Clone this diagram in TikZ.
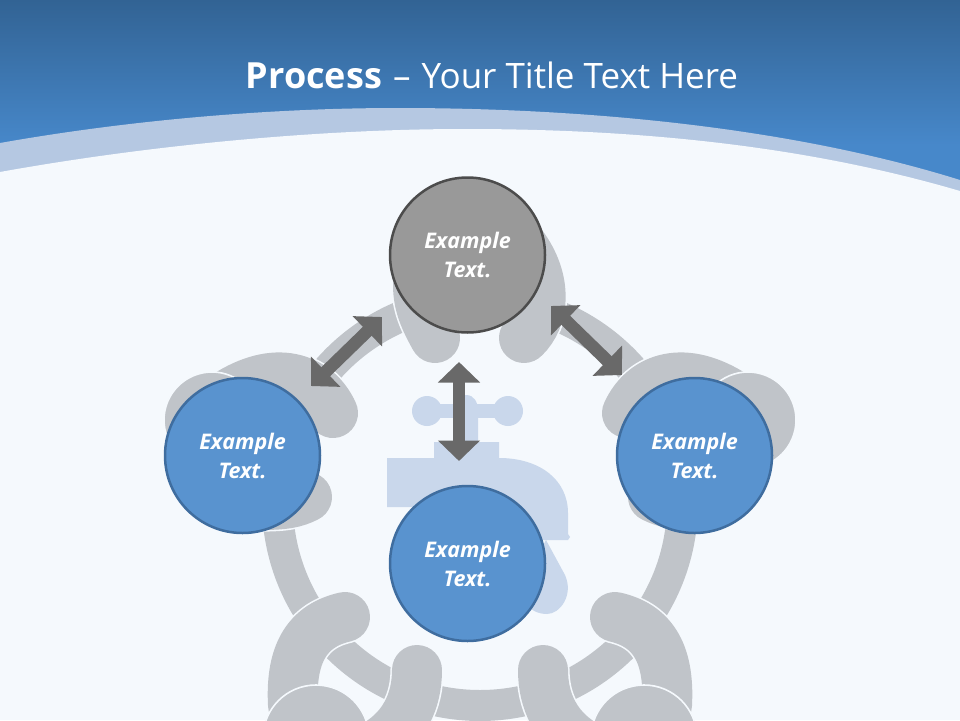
\documentclass[tikz,border=0pt]{standalone}
\usepackage{fontspec}
\setmainfont{Open Sans}
\usetikzlibrary{arrows.meta}
\definecolor{paper}{HTML}{F5F9FD}
\definecolor{bandtop}{HTML}{326394}
\definecolor{bandlow}{HTML}{4788CA}
\definecolor{bandpale}{HTML}{B5C8E2}
\definecolor{handgrey}{HTML}{C0C4C9}
\definecolor{tapblue}{HTML}{C9D7EB}
\definecolor{arrowgrey}{HTML}{696969}
\definecolor{stepfill}{HTML}{5993CF}
\definecolor{stepline}{HTML}{3F6D9F}
\tikzset{
    hand/.style={fill=handgrey,draw=paper,line width=1.6pt},
    finger/.style={line cap=round,draw=paper,line width=1.6pt,double=handgrey,double distance=50pt},
    tap/.style={fill=tapblue,draw=none},
    stepgrey/.style={circle,minimum size=155pt,inner sep=0pt,align=center,
        line width=2.5pt,draw=black!70,fill=black!40,text=white,
        font=\fontsize{21.5}{29}\selectfont\bfseries\itshape},
    stepblue/.style={stepgrey,draw=stepline,fill=stepfill},
    twoway/.style={draw=arrowgrey,line width=12.5pt,
        {Triangle[width=41pt,length=20.5pt]}-{Triangle[width=41pt,length=20.5pt]}}
}
% one side of the ring of hands
\newcommand{\sidehand}{
    \draw[finger] (333,413) .. controls (318,380) and (280,363) .. (230,393);
    \draw[hand] (212,420) circle (48);
    \draw[finger] (307,497) .. controls (295,503) and (285,505) .. (260,505);
    \draw[finger] (345,617) .. controls (310,625) and (290,650) .. (293,705);
    \draw[finger] (417,670) .. controls (417,700) and (405,730) .. (370,748);
    \draw[hand] (316,738) circle (53);
}

\begin{document}
\begin{tikzpicture}[x=1pt,y=-1pt]
    \useasboundingbox (0,0) rectangle (960,720);
    \clip (0,0) rectangle (960,720);
    % slide background
    \fill[paper] (0,0) rectangle (960,720);
    \fill[bandlow] (0,140) rectangle (960,195);
    \fill[top color=bandtop,bottom color=bandlow,shading angle=0] (0,0) rectangle (960,145);
    \fill[bandpale] (0,143) .. controls (130,120) and (270,108) .. (398,108)
        .. controls (600,108) and (800,130) .. (960,180) -- (960,200) -- (0,200) -- cycle;
    \fill[paper] (0,172) .. controls (150,145) and (320,129) .. (465,129)
        .. controls (660,129) and (820,150) .. (960,191) -- (960,210) -- (0,210) -- cycle;
    \node[text=white] (title) at (492,75) {\fontsize{35}{40}\selectfont\textbf{\fontsize{36}{40}\selectfont Process} \hspace{2pt}--\hspace{2pt} Your Title Text Here};

    % tap
    \fill[tap] (427,411) circle (15);
    \fill[tap] (508,411) circle (15);
    \fill[tap] (427,404) rectangle (508,418);
    \fill[tap] (466,395) .. controls (474,395) and (478,402) .. (478,411) -- (478,445) -- (453,445) -- (453,400) .. controls (456,396) and (460,395) .. (466,395) -- cycle;
    \fill[tap] (387,458) -- (434,458) -- (434,442) -- (499,442) -- (499,458)
        .. controls (540,458) and (568,480) .. (568,513) -- (568,534) -- (570,537) -- (568,540)
        -- (500,540) -- (500,507) -- (387,507) -- cycle;
    \fill[tap] (546,540) -- (565,575) .. controls (574,595) and (560,614) .. (547,614)
        .. controls (530,614) and (520,600) .. (520,590) -- cycle;

    % ring of hands
    \draw[handgrey,line width=31pt] (480,503) circle (202.5);
    \sidehand
    \begin{scope}[xshift=960pt,xscale=-1]
        \sidehand
    \end{scope}
    \draw[finger] (435,338) .. controls (425,320) and (418,305) .. (418,285);
    \draw[finger] (524,338) .. controls (545,318) and (548,280) .. (522,245);

    % steps
    \node[stepgrey] (top) at (467.5,255) {Example\\Text.};
    \node[stepblue] (left) at (242.5,455.5) {Example\\Text.};
    \node[stepblue] (right) at (694.5,455.5) {Example\\Text.};
    \node[stepblue] (bottom) at (467.5,563.5) {Example\\Text.};

    % arrows between the steps
    \coordinate (topL) at (382,317);
    \coordinate (leftT) at (311,386);
    \coordinate (topR) at (551,306);
    \coordinate (rightT) at (622,375);
    \coordinate (topB) at (459,362);
    \coordinate (bottomT) at (459,461);
    \draw[twoway] (topL) -- (leftT);
    \draw[twoway] (topR) -- (rightT);
    \draw[twoway] (topB) -- (bottomT);
\end{tikzpicture}
\end{document}
